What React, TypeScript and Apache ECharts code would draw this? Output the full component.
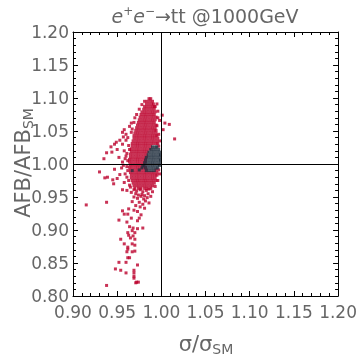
import React, { useEffect, useRef } from "react";
import * as echarts from "echarts";

// Tick values
const xTicks = [0.9, 0.95, 1.0, 1.05, 1.1, 1.15, 1.2];
const yTicks = [0.8, 0.85, 0.9, 0.95, 1.0, 1.05, 1.1, 1.15, 1.2];

// Dense red core, each row: [AFB/AFB_SM, sigma/sigma_SM values...]
const redCoreRows: number[][] = [
  [1.099, 0.986, 0.988],
  [1.095, 0.984, 0.987, 0.990],
  [1.091, 0.983, 0.986, 0.989, 0.991],
  [1.087, 0.981, 0.984, 0.987, 0.990, 0.992],
  [1.083, 0.980, 0.983, 0.986, 0.989, 0.992],
  [1.079, 0.978, 0.981, 0.984, 0.987, 0.990, 0.993],
  [1.075, 0.977, 0.980, 0.983, 0.986, 0.989, 0.992],
  [1.071, 0.976, 0.979, 0.982, 0.985, 0.988, 0.991, 0.994],
  [1.067, 0.975, 0.978, 0.981, 0.984, 0.987, 0.990, 0.993],
  [1.063, 0.974, 0.977, 0.980, 0.983, 0.986, 0.989, 0.992],
  [1.059, 0.973, 0.976, 0.979, 0.982, 0.985, 0.988, 0.991, 0.994],
  [1.055, 0.972, 0.975, 0.978, 0.981, 0.984, 0.987, 0.990, 0.993],
  [1.051, 0.971, 0.974, 0.977, 0.980, 0.983, 0.986, 0.989, 0.992, 0.994],
  [1.047, 0.970, 0.973, 0.976, 0.979, 0.982, 0.985, 0.988, 0.991, 0.994],
  [1.043, 0.969, 0.972, 0.975, 0.978, 0.981, 0.984, 0.987, 0.990, 0.993, 0.995],
  [1.039, 0.969, 0.972, 0.975, 0.978, 0.981, 0.984, 0.987, 0.990, 0.993, 0.996],
  [1.035, 0.968, 0.971, 0.974, 0.977, 0.980, 0.983, 0.986, 0.989, 0.992, 0.995],
  [1.031, 0.967, 0.970, 0.973, 0.976, 0.979, 0.982, 0.985, 0.988, 0.991, 0.994, 0.996],
  [1.027, 0.967, 0.970, 0.973, 0.976, 0.979, 0.982, 0.985, 0.988, 0.997],
  [1.023, 0.966, 0.969, 0.972, 0.975, 0.978, 0.981, 0.984, 0.987],
  [1.019, 0.966, 0.969, 0.972, 0.975, 0.978, 0.981, 0.984],
  [1.015, 0.965, 0.968, 0.971, 0.974, 0.977, 0.980, 0.983],
  [1.011, 0.965, 0.968, 0.971, 0.974, 0.977, 0.980, 0.983],
  [1.007, 0.964, 0.967, 0.970, 0.973, 0.976, 0.979, 0.982],
  [1.003, 0.964, 0.967, 0.970, 0.973, 0.976, 0.979, 0.982],
  [0.999, 0.965, 0.968, 0.971, 0.974, 0.977, 0.980],
  [0.995, 0.964, 0.967, 0.970, 0.973, 0.976, 0.979, 0.982],
  [0.991, 0.965, 0.968, 0.971, 0.974, 0.977, 0.980, 0.983, 0.994, 0.997],
  [0.987, 0.965, 0.968, 0.971, 0.974, 0.977, 0.980, 0.983, 0.986, 0.989, 0.992, 0.995],
  [0.983, 0.966, 0.969, 0.972, 0.975, 0.978, 0.981, 0.984, 0.987, 0.990, 0.993, 0.995],
  [0.979, 0.966, 0.969, 0.972, 0.975, 0.978, 0.981, 0.984, 0.987, 0.990, 0.993],
  [0.975, 0.967, 0.970, 0.973, 0.976, 0.979, 0.982, 0.985, 0.988, 0.991, 0.994],
  [0.971, 0.968, 0.971, 0.974, 0.977, 0.980, 0.983, 0.986, 0.989, 0.992],
  [0.967, 0.969, 0.972, 0.975, 0.978, 0.981, 0.984, 0.987, 0.990],
  [0.963, 0.970, 0.974, 0.977, 0.981, 0.984, 0.988],
];

// Ragged points along the core's edge: [sigma/sigma_SM, AFB/AFB_SM]
const redEdge: number[][] = [
  [0.962, 1.040], [0.963, 1.028], [0.961, 1.016], [0.962, 1.005], [0.961, 0.996],
  [0.962, 0.990], [0.963, 0.975], [0.964, 0.968], [0.966, 1.048], [0.967, 1.053],
  [0.969, 1.063], [0.972, 1.075], [0.975, 1.083], [0.978, 1.090], [0.981, 1.095],
  [0.958, 1.020], [0.959, 1.008], [0.957, 0.998], [0.952, 1.010], [0.950, 1.022],
  [0.953, 0.984], [0.996, 1.070], [0.997, 1.045], [0.998, 1.035], [0.993, 1.087],
  [0.995, 1.091], [0.998, 0.985], [0.996, 0.975], [0.993, 0.966], [0.990, 0.958],
  [0.988, 0.951],
];

// Scattered red points around the core
const redScatter: number[][] = [
  [0.966, 1.062], [0.970, 1.070], [0.964, 1.057], [0.956, 1.048], [0.958, 1.052],
  [0.960, 1.045], [0.957, 1.041], [0.953, 1.036], [0.960, 1.036], [0.949, 1.033],
  [0.947, 1.030], [0.943, 1.026], [0.956, 1.030], [0.964, 1.022], [0.944, 1.018],
  [0.938, 1.017], [0.935, 1.008], [0.956, 1.003], [0.960, 1.012], [0.955, 0.994],
  [0.947, 0.992], [0.930, 0.988], [0.959, 0.985], [0.961, 0.980], [0.936, 0.979],
  [0.939, 0.980], [0.945, 0.976], [0.950, 0.978], [0.946, 0.970], [0.958, 0.972],
  [1.001, 1.074], [0.998, 1.066], [1.004, 1.062], [1.009, 1.060], [1.002, 1.052],
  [1.015, 1.038], [0.996, 1.080], [0.995, 1.058],
];

// Lower, sparser part of the red cloud and its tail
const redTail: number[][] = [
  [0.965, 0.965], [0.969, 0.961], [0.972, 0.959], [0.976, 0.961], [0.979, 0.958],
  [0.983, 0.960], [0.986, 0.962], [0.966, 0.957], [0.971, 0.955], [0.974, 0.953],
  [0.978, 0.954], [0.981, 0.952], [0.985, 0.955], [0.969, 0.950], [0.973, 0.948],
  [0.977, 0.951], [0.980, 0.947], [0.984, 0.949], [0.967, 0.943], [0.975, 0.942],
  [0.979, 0.939], [0.982, 0.944], [0.971, 0.937], [0.976, 0.935], [0.981, 0.933],
  [0.986, 0.941], [0.956, 0.961], [0.961, 0.960], [0.915, 0.938], [0.938, 0.942],
  [0.956, 0.929], [0.963, 0.932], [0.958, 0.924], [0.962, 0.924], [0.952, 0.915],
  [0.966, 0.918], [0.961, 0.912], [0.969, 0.930], [0.973, 0.928], [0.977, 0.923],
  [0.975, 0.918], [0.973, 0.914], [0.964, 0.905], [0.968, 0.903], [0.973, 0.902],
  [0.979, 0.903], [0.962, 0.896], [0.970, 0.896], [0.967, 0.899], [0.963, 0.892],
  [0.968, 0.891], [0.954, 0.886], [0.965, 0.888], [0.970, 0.886], [0.958, 0.879],
  [0.967, 0.879], [0.970, 0.877], [0.962, 0.874], [0.962, 0.871], [0.967, 0.867],
  [0.961, 0.867], [0.970, 0.868], [0.962, 0.858], [0.964, 0.858], [0.960, 0.851],
  [0.952, 0.851], [0.973, 0.847], [0.948, 0.841], [0.954, 0.839], [0.969, 0.839],
  [0.960, 0.835], [0.969, 0.835], [0.969, 0.830], [0.969, 0.827], [0.972, 0.821],
  [0.971, 0.820], [0.974, 0.821], [0.938, 0.816],
];

// Dark cluster rows: [AFB/AFB_SM, sigma/sigma_SM values...]
const darkRows: number[][] = [
  [1.026, 0.990, 0.993, 0.995],
  [1.022, 0.988, 0.991, 0.994, 0.997],
  [1.018, 0.986, 0.989, 0.992, 0.995, 0.998],
  [1.014, 0.985, 0.988, 0.991, 0.994, 0.997, 0.999],
  [1.010, 0.983, 0.986, 0.989, 0.992, 0.995, 0.998],
  [1.006, 0.982, 0.985, 0.988, 0.991, 0.994, 0.997, 0.999],
  [1.002, 0.981, 0.984, 0.987, 0.990, 0.993, 0.996, 0.999],
  [0.998, 0.981, 0.984, 0.987, 0.990, 0.993, 0.996, 0.998],
  [0.994, 0.982, 0.985, 0.988, 0.991, 0.994, 0.996],
  [0.990, 0.983, 0.986, 0.989, 0.992],
];
const darkScatter: number[][] = [
  [0.967, 0.990], [0.975, 0.991], [0.978, 0.994], [0.979, 0.997],
];

const rowsToPoints = (rows: number[][]) =>
  rows.flatMap(([y, ...xs]) => xs.map((x) => [x, y]));

const TEXT = "#666666";
const FONT = "DejaVu Sans";

export default function App() {
  const ref = useRef<HTMLDivElement>(null);
  useEffect(() => {
    if (!ref.current) return;
    const chart = echarts.init(ref.current, undefined, { renderer: "svg" });
    const redData = [...rowsToPoints(redCoreRows), ...redEdge, ...redScatter, ...redTail];
    const darkData = [...rowsToPoints(darkRows), ...darkScatter];

    const baseAxis = (showLabels: boolean, isX: boolean, ticks: number[]) => ({
      type: "value" as const,
      min: ticks[0],
      max: ticks[ticks.length - 1],
      interval: 0.05,
      axisLine: { show: true, onZero: false, lineStyle: { color: "#000", width: 1 } },
      axisTick: { show: true, inside: true, length: 5, lineStyle: { color: "#000", width: 1 } },
      minorTick: { show: true, splitNumber: 5, length: 3, lineStyle: { color: "#000", width: 1 } },
      splitLine: { show: false },
      minorSplitLine: { show: false },
      axisLabel: {
        show: showLabels,
        formatter: (v: number) => v.toFixed(2),
        color: TEXT,
        fontSize: 17,
        fontFamily: FONT,
        margin: isX ? 7 : 4,
        showMinLabel: true,
        showMaxLabel: true,
      },
    });

    chart.setOption({
      animation: false,
      grid: { left: 73, right: 20, top: 32, bottom: 62, containLabel: false },
      xAxis: [
        { ...baseAxis(true, true, xTicks), position: "bottom" },
        { ...baseAxis(false, true, xTicks), position: "top" },
      ],
      yAxis: [
        { ...baseAxis(true, false, yTicks), position: "left" },
        { ...baseAxis(false, false, yTicks), position: "right" },
      ],
      series: [
        {
          type: "scatter",
          data: [],
          z: 1,
          silent: true,
          markLine: {
            silent: true,
            symbol: ["none", "none"],
            label: { show: false },
            lineStyle: { color: "#000", width: 1, type: "solid" },
            data: [{ xAxis: 1.0 }, { yAxis: 1.0 }],
          },
        },
        {
          type: "scatter",
          data: redData,
          symbol: "rect",
          symbolSize: 3,
          itemStyle: { color: "#bc002c" },
          z: 3,
          silent: true,
        },
        {
          type: "scatter",
          data: darkData,
          symbol: "rect",
          symbolSize: 3,
          itemStyle: { color: "#22303f" },
          z: 4,
          silent: true,
        },
      ],
      graphic: [
        {
          type: "text",
          x: 205,
          y: 16,
          style: {
            text: "{i|e}{sup|+}{i|e}{sup|−}{n|→tt @1000GeV}",
            textAlign: "center",
            textVerticalAlign: "middle",
            rich: {
              i: { fontSize: 19, fontStyle: "italic", fontFamily: FONT, fill: TEXT, lineHeight: 22 },
              n: { fontSize: 19, fontFamily: FONT, fill: TEXT, lineHeight: 22 },
              sup: { fontSize: 12, fontFamily: FONT, fill: TEXT, verticalAlign: "top", lineHeight: 12 },
            },
          },
        },
        {
          type: "text",
          x: 206,
          y: 344,
          style: {
            text: "{n|σ/σ}{sub|SM}",
            textAlign: "center",
            textVerticalAlign: "middle",
            rich: {
              n: { fontSize: 21, fontFamily: FONT, fill: TEXT, lineHeight: 24 },
              sub: { fontSize: 14, fontFamily: FONT, fill: TEXT, verticalAlign: "bottom", lineHeight: 14 },
            },
          },
        },
        {
          type: "text",
          x: 23,
          y: 163,
          rotation: Math.PI / 2,
          style: {
            text: "{n|AFB/AFB}{sub|SM}",
            textAlign: "center",
            textVerticalAlign: "middle",
            rich: {
              n: { fontSize: 21, fontFamily: FONT, fill: TEXT, lineHeight: 24 },
              sub: { fontSize: 14, fontFamily: FONT, fill: TEXT, verticalAlign: "bottom", lineHeight: 14 },
            },
          },
        },
      ],
    });
    return () => chart.dispose();
  }, []);
  return (
    <div
      ref={ref}
      style={{ position: "fixed", left: 0, top: 0, width: 360, height: 358 }}
    />
  );
}
